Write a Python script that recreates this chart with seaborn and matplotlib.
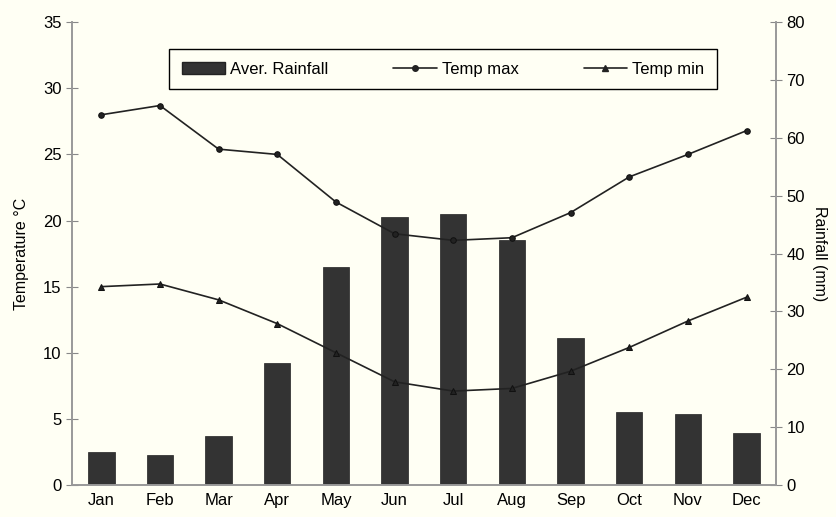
import pandas as pd
import seaborn as sns
import matplotlib.pyplot as plt
from matplotlib.lines import Line2D
from matplotlib.patches import Patch

# Data
months = ['Jan', 'Feb', 'Mar', 'Apr', 'May', 'Jun', 'Jul', 'Aug', 'Sep', 'Oct', 'Nov', 'Dec']
rainfall = [5.7, 5.2, 8.5, 21.0, 37.6, 46.3, 46.8, 42.4, 25.4, 12.6, 12.2, 9.0]
temp_max = [28.0, 28.7, 25.4, 25.0, 21.4, 19.0, 18.5, 18.7, 20.6, 23.3, 25.0, 26.8]
temp_min = [15.0, 15.2, 14.0, 12.2, 10.0, 7.8, 7.1, 7.3, 8.6, 10.4, 12.4, 14.2]

df = pd.DataFrame({'month': months, 'rain': rainfall, 'tmax': temp_max, 'tmin': temp_min})

bg = '#fffff4'
sns.set_style('white')
plt.rcParams['font.family'] = ['Liberation Sans', 'DejaVu Sans']
plt.rcParams['font.size'] = 11
plt.rcParams['text.color'] = 'black'
plt.rcParams['axes.labelcolor'] = 'black'
plt.rcParams['xtick.color'] = 'black'
plt.rcParams['ytick.color'] = 'black'

fig = plt.figure(figsize=(8.37, 5.17), dpi=100, facecolor=bg)
ax = fig.add_axes([0.086, 0.062, 0.841, 0.895])
ax2 = ax.twinx()

# rainfall bars on the right axis
sns.barplot(data=df, x='month', y='rain', ax=ax2, color='#333333', width=0.45,
            saturation=1, edgecolor='#222222', linewidth=0.5)

# temperature lines on the left axis
sns.lineplot(data=df, x='month', y='tmax', ax=ax, color='#222222', marker='o',
             markersize=4, linewidth=1.2, markeredgecolor='#111111', sort=False)
sns.lineplot(data=df, x='month', y='tmin', ax=ax, color='#222222', marker='^',
             markersize=5, linewidth=1.2, markeredgecolor='#111111', sort=False)

# lines above bars
ax.set_zorder(ax2.get_zorder() + 1)
ax.patch.set_visible(False)
ax2.set_facecolor(bg)

for a in (ax, ax2):
    a.set_xlim(-0.5, 11.5)
ax.set_ylim(0, 35)
ax2.set_ylim(0, 80)
ax.set_yticks(range(0, 36, 5))
ax2.set_yticks(range(0, 81, 10))

ax.set_xlabel('')
ax2.set_xlabel('')
ax.set_ylabel('Temperature °C', fontsize=11.5, labelpad=10)
ax2.set_ylabel('Rainfall (mm)', fontsize=11.5, rotation=270, labelpad=16)

# ticks at category boundaries
ax.set_xticks(range(12))
ax.set_xticklabels(months)
ax.set_xticks([i - 0.5 for i in range(13)], minor=True)
ax.tick_params(axis='x', which='major', length=0, pad=6, labelsize=12, labelcolor='black')
ax.tick_params(axis='x', which='minor', length=5, direction='inout', color='#888888')
ax.tick_params(axis='y', length=8, direction='inout', color='#888888', labelsize=12,
               labelcolor='black', left=True)
ax2.tick_params(axis='y', length=8, direction='inout', color='#888888', labelsize=12,
                labelcolor='black', right=True)
ax2.tick_params(axis='x', length=0)

for a in (ax, ax2):
    a.spines['top'].set_visible(False)
    for s in ('left', 'right', 'bottom'):
        a.spines[s].set_color('#999999')
        a.spines[s].set_linewidth(1.2)

handles = [
    Patch(facecolor='#333333', edgecolor='#222222'),
    Line2D([], [], color='#222222', marker='o', markersize=4, linewidth=1.2),
    Line2D([], [], color='#222222', marker='^', markersize=5, linewidth=1.2),
]
leg = ax.legend(handles, ['Aver. Rainfall', 'Temp max', 'Temp min'], ncol=3,
                loc='upper center', bbox_to_anchor=(0.527, 0.96), frameon=True,
                fancybox=False, edgecolor='black', facecolor=bg, framealpha=1,
                fontsize=12, columnspacing=3.9, handlelength=2.6, handletextpad=0.3,
                borderpad=0.75)
leg.get_frame().set_linewidth(1.0)

fig.savefig('out.png', dpi=100, facecolor=bg)
